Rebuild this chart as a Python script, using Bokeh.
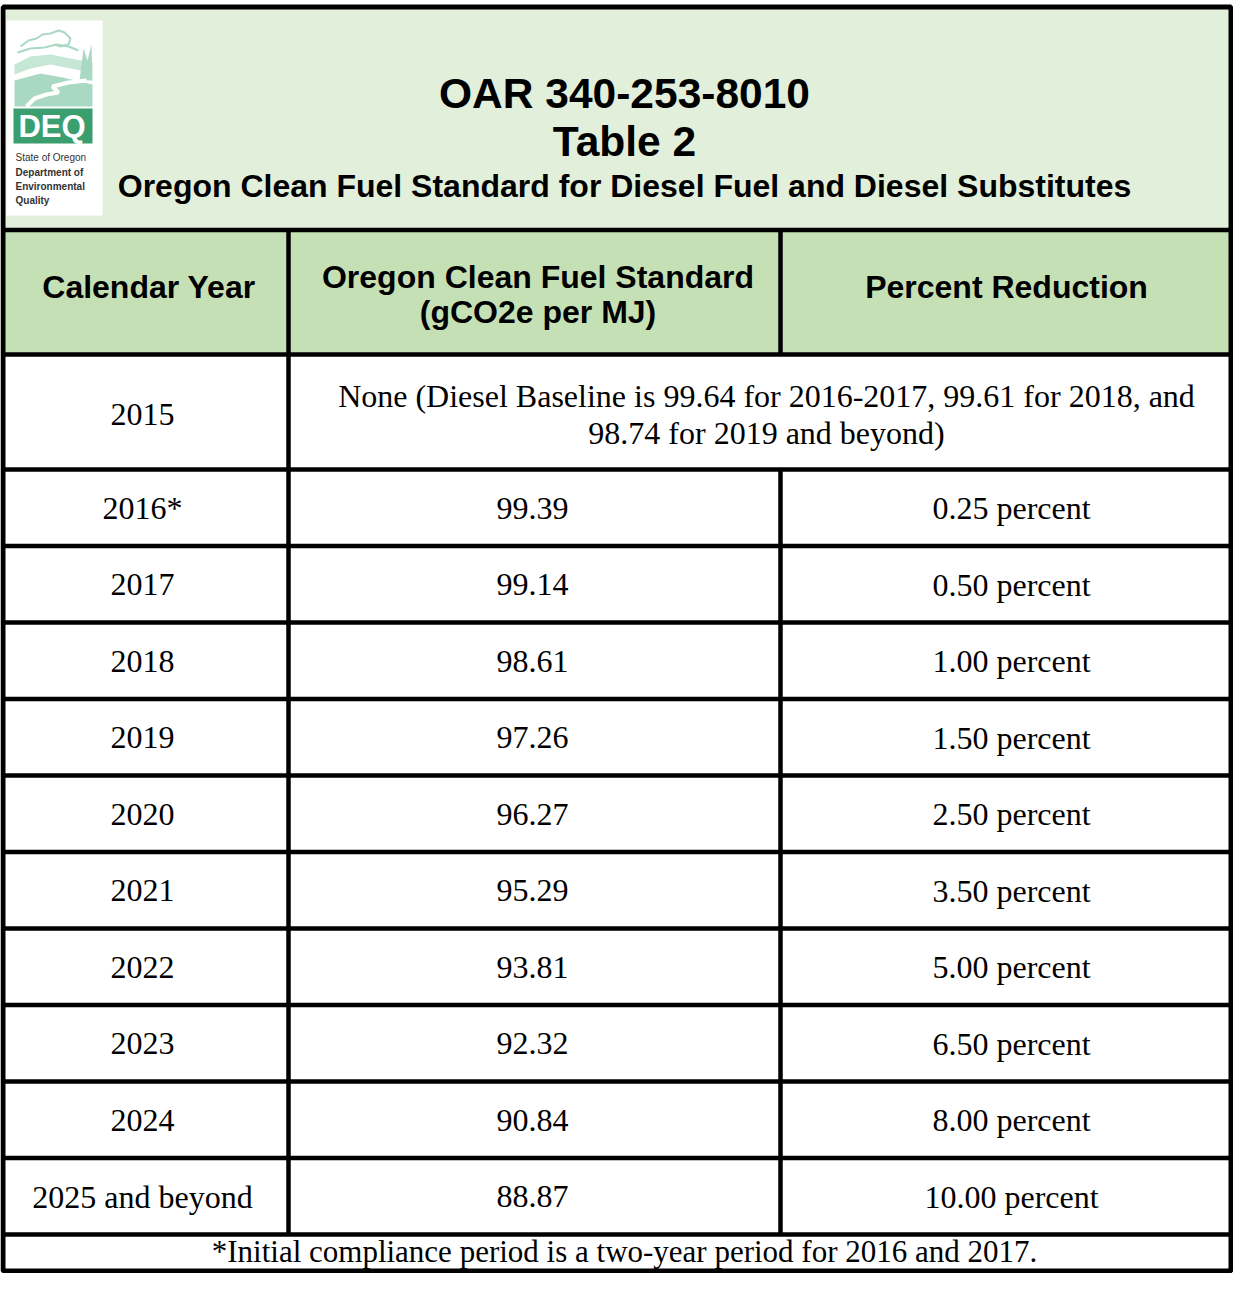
from bokeh.plotting import figure
from bokeh.models import Range1d
from bokeh.embed import file_html
from bokeh.resources import INLINE
from bokeh.core.properties import value

# ---------------- data ----------------
title_lines = ["OAR 340-253-8010", "Table 2",
               "Oregon Clean Fuel Standard for Diesel Fuel and Diesel Substitutes"]
col_headers = ["Calendar Year", "Oregon Clean Fuel Standard\n(gCO2e per MJ)", "Percent Reduction"]
years = ["2015", "2016*", "2017", "2018", "2019", "2020", "2021", "2022", "2023", "2024",
         "2025 and beyond"]
standards = [None, 99.39, 99.14, 98.61, 97.26, 96.27, 95.29, 93.81, 92.32, 90.84, 88.87]
reductions = [None, 0.25, 0.50, 1.00, 1.50, 2.50, 3.50, 5.00, 6.50, 8.00, 10.00]
baseline_note = ["None (Diesel Baseline is 99.64 for 2016-2017, 99.61 for 2018, and",
                 "98.74 for 2019 and beyond)"]
footnote = "*Initial compliance period is a two-year period for 2016 and 2017."
logo_lines = ["State of Oregon", "Department of", "Environmental", "Quality"]

# ---------------- layout (pixel coordinates) ----------------
PW, PH = 1233, 1273
LEFT, RIGHT, TOP, BOTTOM = 2.5, 1230.5, 6.5, 1270.5
COLS = [LEFT, 288, 780, RIGHT]
HDR_TOP, HDR_BOT = 229.5, 354
FIRST_BOT = 469
ROW_H = 76.5
row_edges = [HDR_BOT, FIRST_BOT] + [FIRST_BOT + ROW_H * k for k in range(1, len(years))]
HDR_CX = [148.5, 537.5, 1006]
BODY_CX = [142, 532, 1011]
NOTE_CX = 766
CX = 624

TITLE_BG = "#E2EFDA"
HDR_BG = "#C5E0B4"
LW = 4.5

p = figure(width=PW, height=PH, output_backend="svg", toolbar_location=None,
           x_range=Range1d(0, PW), y_range=Range1d(PH, 0), min_border=0)
p.axis.visible = False
p.xgrid.visible = False
p.ygrid.visible = False
p.outline_line_color = None
p.background_fill_color = "white"
p.border_fill_color = "white"

sans = value("Liberation Sans")
serif = value("Liberation Serif")


def put(x, y, s, font, size, bold=False, align="center", color="black"):
    p.text(x=[x], y=[y], text=[s], text_font=font, text_font_style="bold" if bold else "normal",
           text_font_size=size, text_color=color, text_align=align, text_baseline="middle")


# backgrounds
p.quad(left=[LEFT], right=[RIGHT], top=[TOP], bottom=[HDR_TOP], fill_color=TITLE_BG, line_color=None)
p.quad(left=[LEFT], right=[RIGHT], top=[HDR_TOP], bottom=[HDR_BOT], fill_color=HDR_BG, line_color=None)

# ---------------- logo ----------------
p.quad(left=[6], right=[102], top=[20], bottom=[215], fill_color="white", line_color=None)
mint = "#A9D9C3"
mint2 = "#C6E6D6"
p.line(x=[20, 28, 36, 42, 50, 58, 64, 70, 68, 60, 54],
       y=[46, 40, 38, 34, 33, 30, 32, 38, 44, 46, 44], line_color=mint, line_width=2)
p.line(x=[17, 30, 44, 56, 68, 78], y=[52, 48, 47, 44, 46, 50], line_color=mint, line_width=2)
p.patch(x=[14, 30, 50, 70, 92, 92, 70, 50, 30, 14], y=[64, 56, 54, 58, 62, 72, 68, 64, 68, 74],
        fill_color=mint2, line_color=None)
p.patch(x=[79, 83, 87, 91, 92, 79], y=[80, 48, 60, 44, 80, 80], fill_color=mint, line_color=None)
p.patch(x=[14, 40, 62, 92, 92, 14], y=[80, 73, 77, 84, 106, 106], fill_color=mint, line_color=None)
p.line(x=[26, 34, 46, 58, 52, 68, 86], y=[106, 98, 94, 92, 86, 82, 80], line_color="white", line_width=4)
p.quad(left=[13], right=[92], top=[108], bottom=[143], fill_color="#3A9E6E", line_color=None)
put(51.5, 125.5, "DEQ", sans, "31px", bold=True, color="white")
for i, t in enumerate(logo_lines):
    put(15, [157, 171.5, 186, 200][i], t, sans, "10px", bold=(i > 0), align="left", color="#333333")

# ---------------- title ----------------
put(CX, 92.5, title_lines[0], sans, "42.5px", bold=True)
put(CX, 141, title_lines[1], sans, "42.5px", bold=True)
put(CX, 185, title_lines[2], sans, "32px", bold=True)

# ---------------- header ----------------
for i, h in enumerate(col_headers):
    parts = h.split("\n")
    ys = [286] if len(parts) == 1 else [276, 311]
    for part, yy in zip(parts, ys):
        put(HDR_CX[i], yy, part, sans, "32px", bold=True)

# ---------------- body ----------------
BODY_FS = "32px"
for r, yr in enumerate(years):
    top, bot = row_edges[r], row_edges[r + 1]
    mid = (top + bot) / 2 + 0.5
    put(BODY_CX[0], mid + (1.5 if r == 0 else 0), yr, serif, BODY_FS)
    if standards[r] is None:
        for k, line in enumerate(baseline_note):
            put(NOTE_CX, mid - 17 + 37 * k, line, serif, BODY_FS)
    else:
        put(BODY_CX[1], mid, f"{standards[r]:.2f}", serif, BODY_FS)
        put(BODY_CX[2], mid, f"{reductions[r]:.2f} percent", serif, BODY_FS)

# footnote
put(CX, 1251, footnote, serif, "31px")

# ---------------- grid lines ----------------
hy = [HDR_TOP, HDR_BOT] + row_edges[1:]
p.segment(x0=[LEFT] * len(hy), y0=hy, x1=[RIGHT] * len(hy), y1=hy, line_color="black", line_width=LW)
vx = [COLS[1], COLS[2], COLS[2]]
vy0 = [HDR_TOP, HDR_TOP, row_edges[1]]
vy1 = [row_edges[-1], HDR_BOT, row_edges[-1]]
p.segment(x0=vx, y0=vy0, x1=vx, y1=vy1, line_color="black", line_width=LW)
# outer border
p.quad(left=[LEFT], right=[RIGHT], top=[TOP], bottom=[BOTTOM], fill_color=None,
       line_color="black", line_width=5)

open("out.html", "w").write(file_html(p, INLINE))
